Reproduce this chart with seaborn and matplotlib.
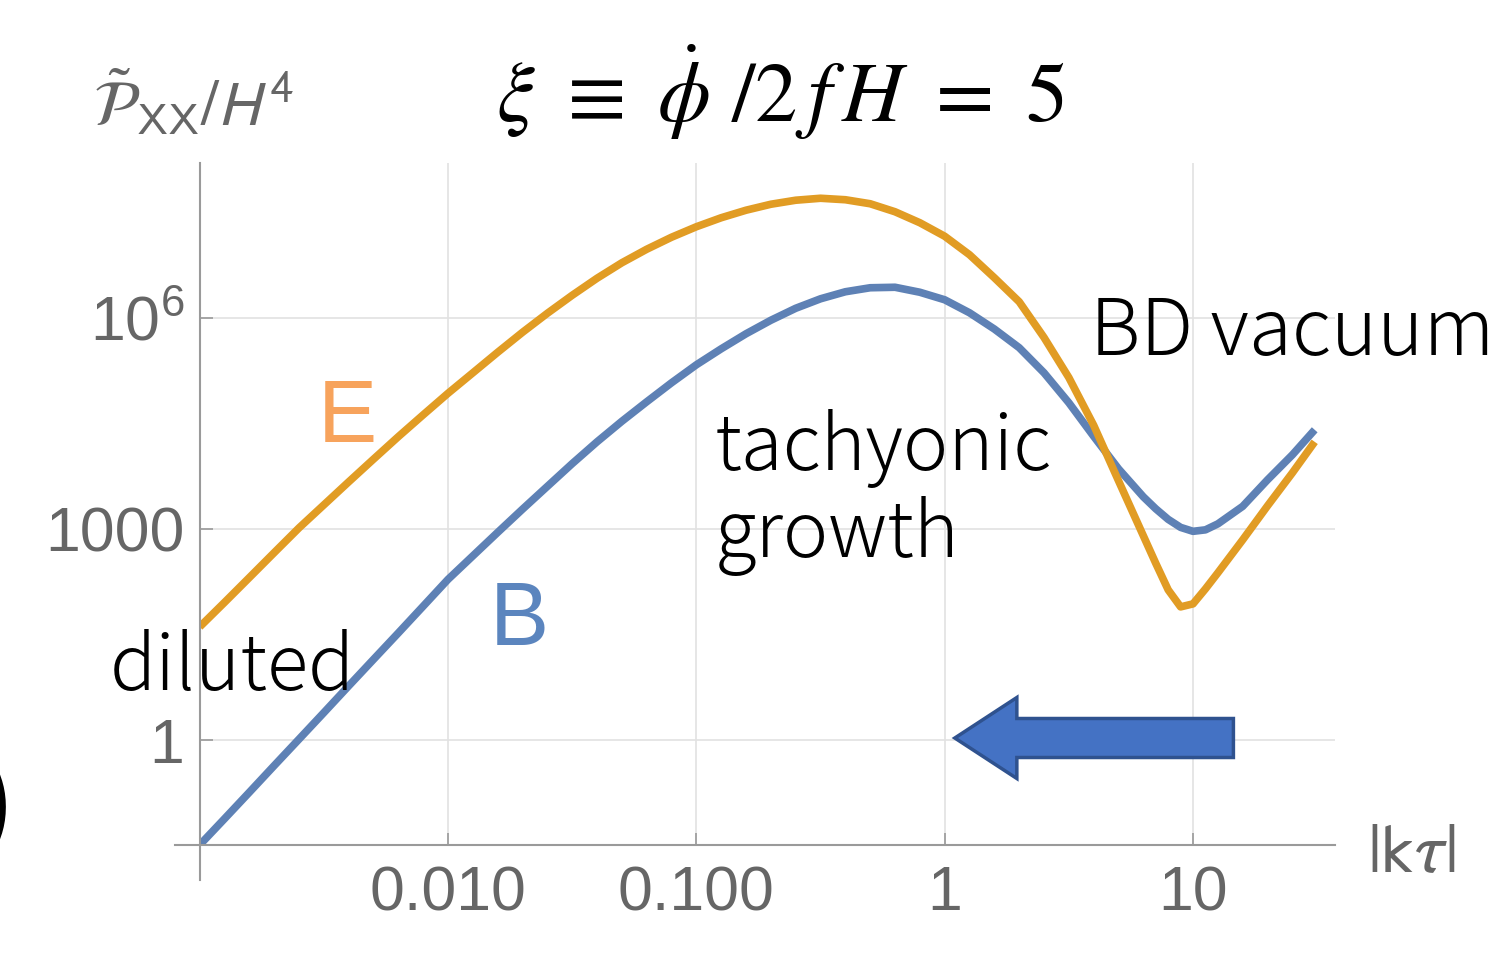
import numpy as np
import matplotlib
matplotlib.use("Agg")
import matplotlib.pyplot as plt
import seaborn as sns
from matplotlib.patches import FancyArrow
from matplotlib.ticker import FixedLocator, FixedFormatter, NullFormatter

# ---- data (log10 of |k tau| and of P/H^4) ----
log_kt = [-3.0, -2.9, -2.8, -2.7, -2.6, -2.5, -2.4, -2.3, -2.2, -2.1,
          -2.0, -1.9, -1.8, -1.7, -1.6, -1.5, -1.4, -1.3, -1.2, -1.1,
          -1.0, -0.9, -0.8, -0.7, -0.6, -0.5, -0.4, -0.3, -0.2, -0.1,
          0.0, 0.1, 0.2, 0.3, 0.4, 0.5, 0.6, 0.7, 0.8, 0.85,
          0.9, 0.95, 1.0, 1.05, 1.1, 1.2, 1.3, 1.4, 1.49]

log_P_E = [1.607, 1.955, 2.308, 2.662, 3.014, 3.341, 3.668, 3.991, 4.311, 4.621,
           4.927, 5.218, 5.510, 5.794, 6.064, 6.320, 6.562, 6.782, 6.974, 7.145,
           7.294, 7.422, 7.529, 7.614, 7.671, 7.699, 7.678, 7.621, 7.507, 7.351,
           7.159, 6.896, 6.569, 6.228, 5.720, 5.150, 4.472, 3.683, 2.901, 2.510,
           2.133, 1.891, 1.934, 2.147, 2.375, 2.844, 3.327, 3.796, 4.237]

log_P_B = [-1.493, -1.120, -0.744, -0.365, 0.011, 0.388, 0.768, 1.145, 1.521, 1.901,
           2.282, 2.616, 2.950, 3.280, 3.604, 3.927, 4.237, 4.529, 4.806, 5.076,
           5.332, 5.559, 5.773, 5.965, 6.135, 6.270, 6.370, 6.427, 6.434, 6.363,
           6.256, 6.071, 5.840, 5.575, 5.218, 4.792, 4.315, 3.853, 3.455, 3.285,
           3.135, 3.021, 2.965, 2.986, 3.071, 3.320, 3.697, 4.052, 4.408]

x_ticks = [0.01, 0.1, 1, 10]
x_labels = ["0.010", "0.100", "1", "10"]
y_ticks = [1, 1000, 1e6]
y_labels = ["1", "1000", r"$10^{6}$"]
y_minor = [0.1, 10, 100, 1e4, 1e5, 1e7, 1e8]

kt = 10 ** np.array(log_kt)
P_E = 10 ** np.array(log_P_E)
P_B = 10 ** np.array(log_P_B)

# ---- style ----
sns.set_theme(style="white")
plt.rcParams["font.family"] = ["Liberation Sans", "DejaVu Sans"]
plt.rcParams["mathtext.fontset"] = "custom"
plt.rcParams["mathtext.rm"] = "Liberation Sans"
plt.rcParams["mathtext.it"] = "Liberation Sans:italic"
plt.rcParams["mathtext.bf"] = "Liberation Sans:bold"

blue = "#5E81B5"
orange = "#E19C24"
gray_txt = "#666666"
gray_ax = "#9a9a9a"

fig = plt.figure(figsize=(15.06, 9.68), dpi=100)
ax = fig.add_axes([0.1326, 0.1271, 0.7539, 0.7045])
ax.set_xscale("log")
ax.set_yscale("log")

sns.lineplot(x=kt, y=P_B, ax=ax, color=blue, lw=5.5, sort=False, estimator=None,
             solid_joinstyle="round", solid_capstyle="butt")
sns.lineplot(x=kt, y=P_E, ax=ax, color=orange, lw=5.5, sort=False, estimator=None,
             solid_joinstyle="round", solid_capstyle="butt")

ax.set_xlim(1e-3, 10 ** 1.572)
ax.set_ylim(10 ** -1.493, 10 ** 8.2)

# axes that cross, Mathematica style
for s in ["top", "right"]:
    ax.spines[s].set_visible(False)
for s in ["left", "bottom"]:
    ax.spines[s].set_color(gray_ax)
    ax.spines[s].set_linewidth(1.5)
ax.spines["left"].set_bounds(10 ** -1.99, 10 ** 8.2)
ax.spines["bottom"].set_bounds(10 ** -3.1, 10 ** 1.572)

ax.xaxis.set_major_locator(FixedLocator(x_ticks))
ax.xaxis.set_major_formatter(FixedFormatter(x_labels))
ax.xaxis.set_minor_locator(FixedLocator(
    [m * 10.0 ** d for d in range(-3, 2) for m in range(2, 10) if m * 10.0 ** d < 37]))
ax.xaxis.set_minor_formatter(NullFormatter())
ax.yaxis.set_major_locator(FixedLocator(y_ticks))
ax.yaxis.set_major_formatter(FixedFormatter(y_labels))
ax.yaxis.set_minor_locator(FixedLocator(y_minor))
ax.yaxis.set_minor_formatter(NullFormatter())

ax.tick_params(which="both", direction="in", color=gray_ax, labelcolor=gray_txt,
               labelsize=45, width=1.2)
ax.tick_params(which="major", length=9)
ax.tick_params(which="minor", length=5)
ax.tick_params(axis="x", which="major", pad=14, bottom=True)
ax.tick_params(axis="y", which="major", pad=11, left=True)
ax.grid(True, which="major", color="#e2e2e2", lw=1.2)
ax.set_xlabel("")
ax.set_ylabel("")

# ---- texts ----
fig.text(0.518, 0.905, r"$\xi\ \equiv\ \dot{\phi}\ /2\,f\,H\ =\ 5$", ha="center", va="center",
         fontsize=61, color="black", math_fontfamily="stix")
fig.text(0.062, 0.893, r"$\tilde{\mathcal{P}}_{\mathrm{XX}}/H^{4}$", ha="left", va="center",
         fontsize=46, color=gray_txt, math_fontfamily="stixsans")
fig.text(0.908, 0.118, r"$|\mathrm{k}\tau|$", ha="left", va="center",
         fontsize=50, color=gray_txt, math_fontfamily="stixsans")

jp = ["Noto Sans CJK JP", "DejaVu Sans"]
fig.text(0.7238, 0.6333, "BD vacuum", family=jp, fontsize=56.5, va="baseline",
         color="black", fontweight="light")
fig.text(0.4748, 0.5145, "tachyonic", family=jp, fontsize=55, va="baseline",
         color="black", fontweight="light")
fig.text(0.4748, 0.4246, "growth", family=jp, fontsize=55, va="baseline",
         color="black", fontweight="light")
fig.text(0.0730, 0.2872, "diluted", family=jp, fontsize=55, va="baseline",
         color="black", fontweight="light")
fig.text(0.2112, 0.5434, "E", fontsize=64, color="#F7A35C", va="baseline")
fig.text(0.3254, 0.3337, "B", fontsize=64, color="#5B85BE", va="baseline")
fig.text(-0.012, 0.135, ")", fontsize=70, color="black", va="baseline", family=jp)

# ---- arrow ----
arrow = FancyArrow(0.819, 0.2376, -0.185, 0.0, width=0.0403, head_width=0.0837,
                   head_length=0.0412, length_includes_head=True,
                   transform=fig.transFigure, facecolor="#4472C4",
                   edgecolor="#2F528F", lw=2.5)
fig.patches.append(arrow)

fig.savefig("out.png", dpi=100)
